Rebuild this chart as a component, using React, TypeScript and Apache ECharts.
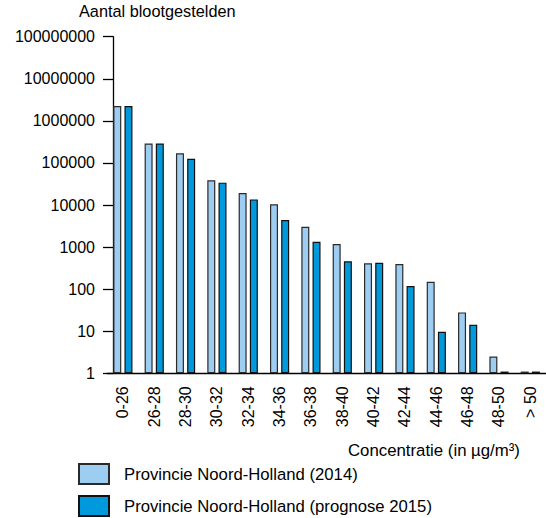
import React, { useEffect, useRef } from "react";
import * as echarts from "echarts";

const categories = ["0-26", "26-28", "28-30", "30-32", "32-34", "34-36", "36-38", "38-40", "40-42", "42-44", "44-46", "46-48", "48-50", "> 50"];
const series2014 = [2250000, 290000, 169000, 38500, 19300, 10400, 3050, 1180, 410, 395, 150, 28, 2.5, 1.1];
const series2015 = [2250000, 290000, 126000, 34000, 13600, 4400, 1340, 460, 425, 119, 9.7, 14.3, 1.1, 1.1];
const seriesNames = ["Provincie Noord-Holland (2014)", "Provincie Noord-Holland (prognose 2015)"];
const yTitle = "Aantal blootgestelden";
const xTitle = "Concentratie (in µg/m³)";

const FONT = "Liberation Sans, Arial, sans-serif";

export default function App() {
  const ref = useRef<HTMLDivElement>(null);
  useEffect(() => {
    if (!ref.current) return;
    const chart = echarts.init(ref.current, null, { renderer: "svg" });
    chart.setOption({
      animation: false,
      backgroundColor: "#fff",
      textStyle: { fontFamily: FONT },
      title: {
        text: yTitle,
        left: 79,
        top: 3,
        padding: 0,
        textStyle: { fontSize: 16.3, fontWeight: "normal", color: "#000", fontFamily: FONT },
      },
      grid: { left: 107.2, right: -3.6, top: 36.7, bottom: 144.7, containLabel: false },
      legend: {
        orient: "vertical",
        left: 78,
        top: 463,
        itemWidth: 30,
        itemHeight: 20,
        itemGap: 10,
        icon: "rect",
        padding: 0,
        textStyle: { fontSize: 16.7, color: "#000", fontFamily: FONT, padding: [0, 0, 0, 10] },
        data: seriesNames,
      },
      xAxis: {
        type: "category",
        data: categories,
        axisLine: { show: true, lineStyle: { color: "#000", width: 1.3 } },
        axisTick: { show: false },
        axisLabel: { rotate: 90, margin: 13, fontSize: 16, color: "#000", fontFamily: FONT },
      },
      yAxis: {
        type: "log",
        logBase: 10,
        min: 1,
        max: 100000000,
        splitNumber: 8,
        offset: -5.8,
        axisLine: { show: true, lineStyle: { color: "#000", width: 1.3 } },
        axisTick: { show: true, length: 10, lineStyle: { color: "#000", width: 1.3 } },
        splitLine: { show: false },
        axisLabel: {
          margin: 18,
          fontSize: 16,
          color: "#000",
          fontFamily: FONT,
          formatter: (v: number) => String(Math.round(v)),
        },
      },
      graphic: [
        {
          type: "text",
          left: 348,
          top: 442,
          style: { text: xTitle, fontSize: 16.8, fill: "#000", fontFamily: FONT },
        },
      ],
      series: [
        {
          name: seriesNames[0],
          type: "bar",
          data: series2014,
          barWidth: 8,
          barGap: "40%",
          itemStyle: { color: "#9DCEF2", borderColor: "#2a2a2a", borderWidth: 1.2 },
        },
        {
          name: seriesNames[1],
          type: "bar",
          data: series2015,
          barWidth: 8,
          barGap: "40%",
          itemStyle: { color: "#0099DC", borderColor: "#111", borderWidth: 1.2 },
        },
      ],
    });
    return () => chart.dispose();
  }, []);
  return (
    <div
      ref={ref}
      style={{ position: "fixed", left: 0, top: 0, width: 546, height: 518, background: "#fff" }}
    />
  );
}
